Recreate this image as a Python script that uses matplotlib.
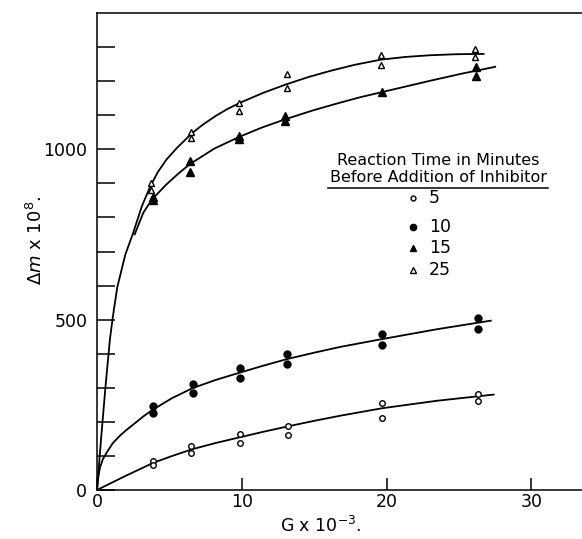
import numpy as np
import matplotlib.pyplot as plt
from matplotlib.lines import Line2D

# measured points: G x 10^-3 and delta m x 10^8
g5 = [3.9, 3.9, 6.5, 6.5, 9.9, 9.9, 13.2, 13.2, 19.7, 19.7, 26.3, 26.3]
m5 = [85, 73, 129, 108, 165, 139, 189, 162, 255, 211, 283, 262]

g10 = [3.9, 3.9, 6.6, 6.6, 9.9, 9.9, 13.1, 13.1, 19.7, 19.7, 26.3, 26.3]
m10 = [248, 227, 311, 286, 358, 328, 399, 370, 458, 425, 505, 473]

g15 = [3.85, 3.85, 6.4, 6.4, 9.8, 9.8, 13.0, 13.0, 19.7, 26.2, 26.2]
m15 = [860, 850, 966, 933, 1039, 1029, 1098, 1083, 1169, 1242, 1214]

g25 = [3.7, 3.7, 6.5, 6.5, 9.8, 9.8, 13.1, 13.1, 19.6, 19.6, 26.1, 26.1]
m25 = [900, 880, 1052, 1034, 1137, 1113, 1221, 1181, 1276, 1247, 1294, 1270]

# fitted curves
c5_x = [0, 2.0, 3.9, 5.2, 6.6, 8.2, 9.9, 11.5, 13.1, 15.0, 16.8, 19.7, 23.5, 27.4]
c5_y = [0, 42, 80, 100, 120, 138, 155, 171, 186, 203, 218, 240, 262, 280]

c10_x = [0, 0.1, 0.2, 0.4, 0.7, 1.1, 1.6, 2.0, 2.5, 3.2, 3.9, 5.2, 6.6, 8.2, 9.9,
         11.5, 13.1, 15.0, 16.8, 19.7, 23.5, 27.2]
c10_y = [0, 40, 65, 90, 112, 138, 160, 175, 192, 216, 237, 270, 299, 323, 345,
         365, 384, 403, 420, 443, 472, 497]

c15_x = [2.6, 3.2, 3.8, 4.8, 5.6, 6.4, 8.1, 9.8, 11.4, 13.0, 14.9, 16.8, 18.2,
         19.7, 21.4, 23.0, 25.2, 27.5]
c15_y = [750, 814, 853, 897, 928, 956, 1002, 1036, 1064, 1088, 1114, 1137, 1153,
         1168, 1185, 1201, 1222, 1242]

c25_x = [0, 0.3, 0.6, 0.9, 1.1, 1.4, 1.95, 2.5, 3.1, 3.7, 4.2, 4.8, 5.5, 6.5, 7.3,
         8.2, 9.0, 9.9, 11.5, 13.1, 14.6, 16.1, 17.8, 19.6, 21.3, 23.0, 24.8, 26.7]
c25_y = [0, 160, 310, 445, 510, 595, 690, 755, 833, 893, 933, 970, 1003, 1045, 1072,
         1098, 1118, 1137, 1166, 1191, 1212, 1230, 1248, 1263, 1271, 1276, 1279, 1280]

legend_labels = ['5', '10', '15', '25']

plt.rcParams['font.family'] = ['DejaVu Sans']

fig = plt.figure(figsize=(5.82, 5.39), dpi=100)
ax = fig.add_axes([97 / 582, 49 / 539, 485 / 582, 477 / 539])

lw = 1.3
ax.plot(c5_x, c5_y, color='black', lw=lw)
ax.plot(c10_x, c10_y, color='black', lw=lw)
ax.plot(c15_x, c15_y, color='black', lw=lw)
ax.plot(c25_x, c25_y, color='black', lw=lw)

ax.plot(g5, m5, 'o', mfc='white', mec='black', ms=4, mew=1.0, ls='none')
ax.plot(g10, m10, 'o', color='black', ms=5, ls='none')
ax.plot(g15, m15, '^', color='black', ms=5.5, ls='none')
ax.plot(g25, m25, '^', mfc='white', mec='black', ms=5, mew=1.0, ls='none')

ax.set_xlim(0, 33.5)
ax.set_ylim(0, 1400)
ax.spines['right'].set_visible(False)
for s in ['left', 'bottom', 'top']:
    ax.spines[s].set_linewidth(1.1)

ax.set_xticks([0, 10, 20, 30])
ax.set_xticklabels(['0', '10', '20', '30'])
ax.set_yticks([0, 500, 1000])
ax.set_yticklabels(['0', '500', '1000'])
ax.set_yticks(np.arange(0, 1400, 100), minor=True)
ax.tick_params(axis='y', which='both', direction='in', length=13, width=1.1,
               labelsize=12.5, pad=7)
ax.tick_params(axis='x', which='major', direction='in', length=9, width=1.1,
               labelsize=12.5, pad=2)

ax.set_xlabel(r'G x 10$^{-3}$.', fontsize=12.5)
ax.xaxis.set_label_coords((321 - 97) / 485, -(516 - 490) / 477)
ax.set_ylabel(r'$\Delta m$ x 10$^8$.', fontsize=13)
ax.yaxis.set_label_coords(-(97 - 46) / 485, (490 - 240) / 477)

# hand-drawn style legend
fig.text(438 / 582, 1 - 160 / 539, 'Reaction Time in Minutes', ha='center',
         va='center', fontsize=11.5)
fig.text(438 / 582, 1 - 178 / 539, 'Before Addition of Inhibitor', ha='center',
         va='center', fontsize=11.5)
fig.add_artist(Line2D([328 / 582, 548 / 582], [1 - 188 / 539, 1 - 188 / 539],
                      color='black', lw=1.1, transform=fig.transFigure))

leg_y = [198, 227, 248, 270]
leg_style = [dict(marker='o', mfc='white', mec='black', ms=3.5, mew=1.0),
             dict(marker='o', color='black', ms=4.5),
             dict(marker='^', color='black', ms=5),
             dict(marker='^', mfc='white', mec='black', ms=4.5, mew=1.0)]
for lab, yy, st in zip(legend_labels, leg_y, leg_style):
    fig.add_artist(Line2D([413 / 582], [1 - yy / 539], ls='none',
                          transform=fig.transFigure, **st))
    fig.text(429 / 582, 1 - yy / 539, lab, ha='left', va='center', fontsize=12.5)

fig.savefig('out.png', dpi=100)
